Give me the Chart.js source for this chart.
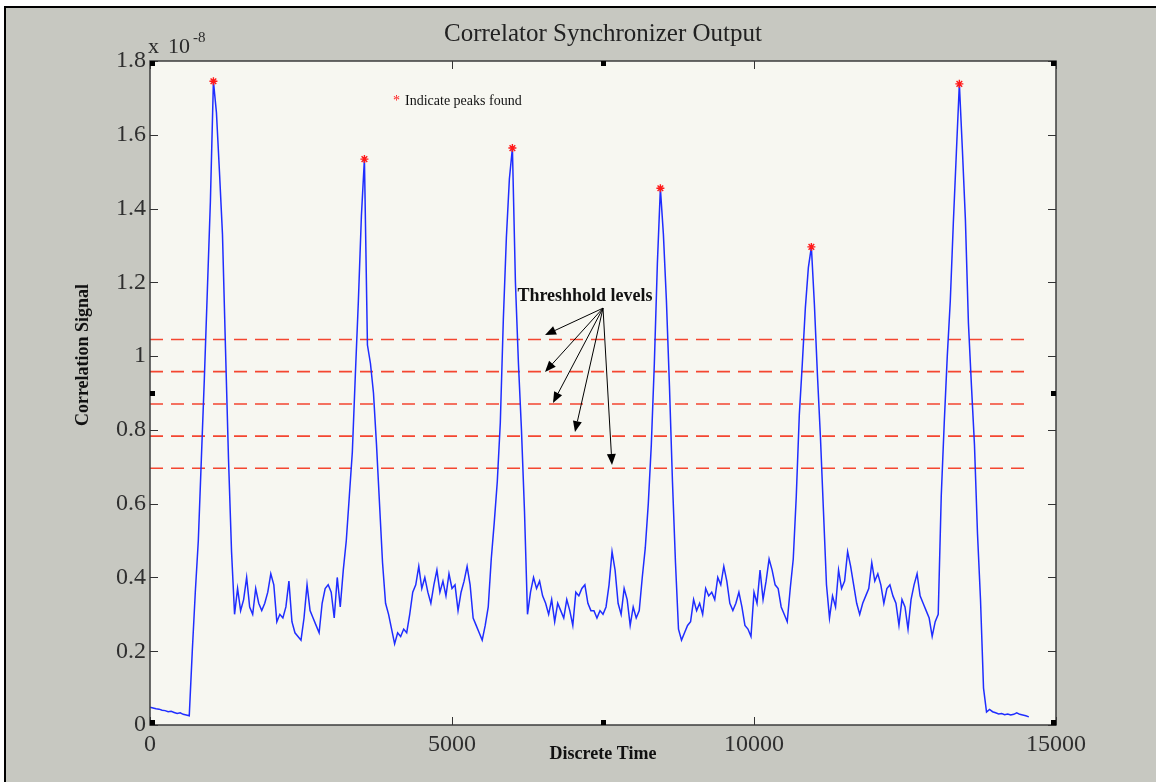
<!DOCTYPE html>
<html>
<head>
<meta charset="utf-8">
<script src="https://cdn.jsdelivr.net/npm/chart.js@4.4.1/dist/chart.umd.min.js"></script>
<style>
  html, body { margin: 0; padding: 0; background: #ffffff; }
  #wrap { width: 1156px; height: 782px; position: relative; }
</style>
</head>
<body>
<div id="wrap"><canvas id="chart" width="1156" height="782"></canvas></div>
<script>
// ---------- data ----------
const sampleStart = 0;      // first discrete time index
const sampleStep = 50;      // spacing of read samples (discrete time)
const correlation = [
  // 0 .. 650 (baseline)
  0.048,0.046,0.044,0.043,0.040,0.039,0.036,0.037,0.034,0.031,0.033,0.029,0.027,0.025,
  // 700 .. 1350 (peak 1)
  0.20,0.36,0.50,0.72,0.94,1.18,1.42,1.745,1.66,1.50,1.33,1.02,0.72,0.47,
  // 1400 .. 3150
  0.30,0.37,0.31,0.34,0.40,0.32,0.30,0.37,0.33,0.31,
  0.33,0.36,0.41,0.38,0.28,0.30,0.29,0.32,0.39,0.28,
  0.25,0.24,0.23,0.29,0.38,0.31,0.29,0.27,0.25,0.33,
  0.37,0.38,0.36,0.29,0.40,0.32,
  // 3200 .. 3850 (peak 2)
  0.42,0.50,0.62,0.74,0.95,1.15,1.38,1.534,1.03,0.98,0.90,0.76,0.60,0.44,
  // 3900 .. 5600
  0.33,0.30,0.26,0.22,0.25,0.24,0.26,0.25,0.30,0.36,
  0.38,0.43,0.37,0.40,0.36,0.33,0.38,0.42,0.36,0.39,
  0.35,0.41,0.37,0.38,0.31,0.36,0.39,0.43,0.38,0.29,
  0.27,0.25,0.23,0.27,0.32,
  // 5650 .. 6200 (peak 3)
  0.45,0.55,0.66,0.82,1.10,1.32,1.48,1.564,1.20,0.98,0.80,0.58,
  // 6250 .. 8100
  0.30,0.36,0.40,0.37,0.39,0.35,0.33,0.30,0.34,0.28,
  0.33,0.31,0.29,0.34,0.31,0.27,0.36,0.35,0.37,0.38,
  0.33,0.31,0.31,0.29,0.31,0.30,0.32,0.38,0.47,0.42,
  0.33,0.30,0.37,0.34,0.27,0.32,0.29,0.31,
  // 8150 .. 8700 (peak 4)
  0.40,0.48,0.60,0.76,0.98,1.25,1.455,1.33,1.15,0.92,0.66,0.44,
  // 8750 .. 10600
  0.26,0.23,0.25,0.27,0.28,0.34,0.31,0.33,0.30,0.37,
  0.35,0.36,0.34,0.40,0.38,0.43,0.39,0.33,0.31,0.33,
  0.36,0.32,0.27,0.26,0.24,0.36,0.33,0.42,0.34,0.39,
  0.45,0.42,0.38,0.37,0.32,0.30,0.28,0.37,
  // 10650 .. 11200 (peak 5)
  0.45,0.62,0.84,0.98,1.13,1.24,1.296,1.14,0.95,0.78,0.58,0.38,
  // 11250 .. 13050
  0.29,0.35,0.32,0.42,0.37,0.39,0.47,0.43,0.38,0.33,
  0.30,0.33,0.35,0.37,0.44,0.39,0.41,0.38,0.33,0.37,
  0.38,0.35,0.33,0.27,0.34,0.32,0.26,0.34,0.38,0.41,
  0.35,0.33,0.31,0.29,0.24,0.28,0.30,
  // 13100 .. 13800 (peak 6)
  0.62,0.82,1.00,1.15,1.36,1.55,1.738,1.56,1.37,1.09,0.92,0.76,0.52,0.34,0.10,
  // 13850 .. 14550 (tail)
  0.035,0.042,0.036,0.033,0.030,0.031,0.028,0.030,0.027,0.029,0.033,0.029,0.027,0.025,0.022
];
const peakTimes  = [1050, 3550, 6000, 8450, 10950, 13400];
const peakValues = [1.745, 1.534, 1.564, 1.455, 1.296, 1.738];
const thresholdLevels = [1.045, 0.958, 0.870, 0.783, 0.696];
const thresholdSpan = [0, 14570];
const xTickValues = [0, 5000, 10000, 15000];
const yTickValues = [0, 0.2, 0.4, 0.6, 0.8, 1.0, 1.2, 1.4, 1.6, 1.8];

// annotation anchors (in data units)
const arrowOrigin = [7500, 1.13];
const arrowTips = [[6540, 1.057], [6540, 0.957], [6672, 0.873], [7036, 0.794], [7649, 0.705]];
const thresholdLabelAt = [7202, 1.149];
const peakNoteAt = [4222, 1.68];

// ---------- chart ----------
const SERIF = '"Liberation Serif", "Times New Roman", serif';

const datasets = [];
datasets.push({
  label: 'Peaks',
  data: peakTimes.map((t, i) => ({ x: t, y: peakValues[i] })),
  showLine: false,
  pointStyle: 'star',
  pointRadius: 4,
  pointBorderColor: '#ff1a1a',
  pointBorderWidth: 1.4,
  pointBackgroundColor: '#ff1a1a',
  borderColor: '#ff1a1a'
});
datasets.push({
  label: 'Correlation',
  data: correlation.map((v, i) => ({ x: sampleStart + i * sampleStep, y: v })),
  borderColor: '#1f2dff',
  borderWidth: 1.5,
  pointRadius: 0,
  tension: 0,
  fill: false
});
thresholdLevels.forEach((lv, k) => {
  datasets.push({
    label: 'Threshold ' + (k + 1),
    data: thresholdSpan.map(t => ({ x: t, y: lv })),
    borderColor: 'rgb(244,70,48)',
    borderWidth: 1.6,
    borderDash: [13, 8],
    pointRadius: 0,
    fill: false
  });
});

const decorPlugin = {
  id: 'decor',
  beforeDraw(chart) {
    const { ctx, chartArea: ca, width: W, height: H } = chart;
    ctx.save();
    ctx.fillStyle = '#ffffff';
    ctx.fillRect(0, 0, W, H);
    ctx.fillStyle = '#000000';
    ctx.fillRect(4, 6, W - 4, H - 6);
    ctx.fillStyle = '#c7c8c1';
    ctx.fillRect(6, 8, W - 6, H - 8);
    ctx.fillStyle = '#f7f7f1';
    ctx.fillRect(ca.left, ca.top, ca.right - ca.left, ca.bottom - ca.top);
    ctx.restore();
  },
  afterDraw(chart) {
    const { ctx, chartArea: ca } = chart;
    const xs = chart.scales.x, ys = chart.scales.y;
    ctx.save();
    // frame
    ctx.strokeStyle = '#3c3c3c';
    ctx.lineWidth = 1.5;
    ctx.strokeRect(ca.left, ca.top, ca.right - ca.left, ca.bottom - ca.top);
    // inward ticks
    ctx.lineWidth = 1;
    ctx.strokeStyle = '#333333';
    ctx.beginPath();
    yTickValues.forEach(v => {
      const py = Math.round(ys.getPixelForValue(v)) + 0.5;
      ctx.moveTo(ca.left, py); ctx.lineTo(ca.left + 8, py);
      ctx.moveTo(ca.right, py); ctx.lineTo(ca.right - 8, py);
    });
    xTickValues.forEach(v => {
      const px = Math.round(xs.getPixelForValue(v)) + 0.5;
      ctx.moveTo(px, ca.bottom); ctx.lineTo(px, ca.bottom - 8);
      ctx.moveTo(px, ca.top); ctx.lineTo(px, ca.top + 8);
    });
    ctx.stroke();
    // selection handles
    ctx.fillStyle = '#000000';
    const midX = Math.round((ca.left + ca.right) / 2), midY = Math.round((ca.top + ca.bottom) / 2);
    const hs = 5;
    [[ca.left, ca.top], [midX - 2, ca.top], [ca.right - hs, ca.top],
     [ca.left, midY - 2], [ca.right - hs, midY - 2],
     [ca.left, ca.bottom - hs], [midX - 2, ca.bottom - hs], [ca.right - hs, ca.bottom - hs]]
      .forEach(([hx, hy]) => ctx.fillRect(Math.round(hx), Math.round(hy), hs, hs));

    // exponent label
    ctx.fillStyle = '#2a2a2a';
    ctx.textBaseline = 'alphabetic';
    ctx.textAlign = 'left';
    ctx.font = '22px ' + SERIF;
    ctx.fillText('x', ca.left - 2, ca.top - 8);
    ctx.fillText('10', ca.left + 18, ca.top - 8);
    ctx.font = '15px ' + SERIF;
    ctx.fillText('-8', ca.left + 43, ca.top - 19);

    // y axis title
    ctx.save();
    ctx.font = 'bold 18px ' + SERIF;
    ctx.fillStyle = '#111111';
    ctx.textAlign = 'center';
    ctx.textBaseline = 'middle';
    ctx.translate(83, 355);
    ctx.rotate(-Math.PI / 2);
    ctx.fillText('Correlation Signal', 0, 0);
    ctx.restore();

    // peak note
    const nx = xs.getPixelForValue(peakNoteAt[0]), ny = ys.getPixelForValue(peakNoteAt[1]);
    ctx.font = '14px ' + SERIF;
    ctx.textBaseline = 'alphabetic';
    ctx.fillStyle = '#ff1a1a';
    ctx.fillText('*', nx - 12, ny);
    ctx.fillStyle = '#111111';
    ctx.fillText('Indicate peaks found', nx, ny);

    // threshold label
    ctx.font = 'bold 18px ' + SERIF;
    ctx.textAlign = 'center';
    ctx.fillStyle = '#111111';
    ctx.fillText('Threshhold levels', xs.getPixelForValue(thresholdLabelAt[0]), ys.getPixelForValue(thresholdLabelAt[1]));

    // arrows
    const ox = xs.getPixelForValue(arrowOrigin[0]), oy = ys.getPixelForValue(arrowOrigin[1]);
    ctx.strokeStyle = '#000000';
    ctx.fillStyle = '#000000';
    ctx.lineWidth = 1;
    arrowTips.forEach(([tx, ty]) => {
      const px = xs.getPixelForValue(tx), py = ys.getPixelForValue(ty);
      const ang = Math.atan2(py - oy, px - ox);
      const len = 11, half = 4.5;
      const bx = px - len * Math.cos(ang), by = py - len * Math.sin(ang);
      ctx.beginPath();
      ctx.moveTo(ox, oy); ctx.lineTo(bx, by);
      ctx.stroke();
      ctx.beginPath();
      ctx.moveTo(px, py);
      ctx.lineTo(bx + half * Math.sin(ang), by - half * Math.cos(ang));
      ctx.lineTo(bx - half * Math.sin(ang), by + half * Math.cos(ang));
      ctx.closePath();
      ctx.fill();
    });
    ctx.restore();
  }
};

new Chart(document.getElementById('chart'), {
  type: 'line',
  data: { datasets },
  plugins: [decorPlugin],
  options: {
    responsive: false,
    animation: false,
    devicePixelRatio: 1,
    layout: { padding: { top: 0, left: 0, right: 100, bottom: 0 } },
    plugins: {
      legend: { display: false },
      tooltip: { enabled: false },
      title: {
        display: true,
        fullSize: false,
        text: 'Correlator Synchronizer Output',
        color: '#222222',
        font: { family: SERIF, size: 25, weight: 'normal', lineHeight: 1.2 },
        padding: { top: 19, bottom: 12 }
      }
    },
    scales: {
      x: {
        type: 'linear',
        min: 0, max: 15000,
        afterBuildTicks: s => { s.ticks = xTickValues.map(v => ({ value: v })); },
        afterFit: s => { s.height = 57; s.paddingLeft = 0; s.paddingRight = 0; },
        grid: { display: false, drawTicks: false },
        border: { display: false },
        ticks: {
          padding: 5,
          color: '#2f2f2f',
          maxRotation: 0,
          autoSkip: false,
          font: { family: SERIF, size: 24 },
          callback: v => String(v)
        },
        title: {
          display: true,
          text: 'Discrete Time',
          color: '#111111',
          font: { family: SERIF, size: 18, weight: 'bold', lineHeight: 1.2 },
          padding: { top: 0, bottom: 17 }
        }
      },
      y: {
        type: 'linear',
        min: 0, max: 1.8,
        afterBuildTicks: s => { s.ticks = yTickValues.map(v => ({ value: v })); },
        afterFit: s => { s.width = 150; },
        grid: { display: false, drawTicks: false },
        border: { display: false },
        ticks: {
          padding: 4,
          color: '#2f2f2f',
          autoSkip: false,
          font: { family: SERIF, size: 24 },
          callback: v => String(Number(Number(v).toFixed(1)))
        }
      }
    }
  }
});
</script>
</body>
</html>
